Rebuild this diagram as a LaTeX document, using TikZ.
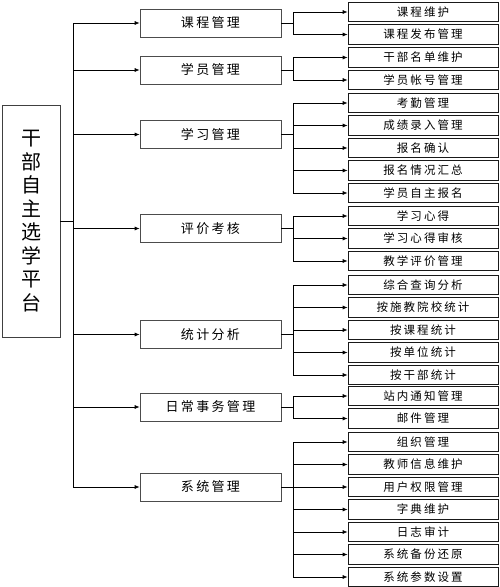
\documentclass[tikz,border=0pt]{standalone}
\usepackage{fontspec}
\setmainfont{Noto Sans CJK SC}[LetterSpace=18]
\newfontfamily\plaincjk{Noto Sans CJK SC}
\usetikzlibrary{arrows.meta, positioning}
\tikzset{> = { Latex[length = 5pt, width = 4pt] }}

\begin{document}
\begin{tikzpicture}[->, x = 1pt, y = 1pt, line width = 0.7pt,
		platform/.style = { draw = black!75, minimum width = 58pt, minimum height = 232pt, inner sep = 0pt, align = center, font = \plaincjk\fontsize{20}{23.5}\selectfont },
		module/.style = { draw = black!70, minimum width = 141pt, minimum height = 28pt, inner sep = 0pt, font = \fontsize{13}{15}\selectfont },
		func/.style = { draw = black!90, minimum width = 150pt, minimum height = 19.5pt, inner sep = 0pt, font = \fontsize{11.5}{13}\selectfont }]
		\useasboundingbox (0,0) rectangle (500,-587);

		\node [platform] (p) at (31,-221) {干\\部\\自\\主\\选\\学\\平\\台};

		\node [module] (m1) at (210.5,-23)  {课程管理};
		\node [module] (m2) at (210.5,-70)  {学员管理};
		\node [module] (m3) at (210.5,-134.5) {学习管理};
		\node [module] (m4) at (210.5,-228.5) {评价考核};
		\node [module] (m5) at (210.5,-334.5) {统计分析};
		\node [module] (m6) at (210.5,-407) {日常事务管理};
		\node [module] (m7) at (210.5,-487) {系统管理};

		\node [func]                    (a1) at (423,-12) {课程维护};
		\node [func, below = 2.3pt of a1] (a2) {课程发布管理};

		\node [func]                    (b1) at (423,-57.5) {干部名单维护};
		\node [func, below = 2.3pt of b1] (b2) {学员帐号管理};

		\node [func]                    (c1) at (423,-103) {考勤管理};
		\node [func, below = 2.3pt of c1] (c2) {成绩录入管理};
		\node [func, below = 2.3pt of c2] (c3) {报名确认};
		\node [func, below = 2.3pt of c3] (c4) {报名情况汇总};
		\node [func, below = 2.3pt of c4] (c5) {学员自主报名};

		\node [func]                    (d1) at (423,-216) {学习心得};
		\node [func, below = 2.3pt of d1] (d2) {学习心得审核};
		\node [func, below = 2.3pt of d2] (d3) {教学评价管理};

		\node [func]                    (e1) at (423,-285) {综合查询分析};
		\node [func, below = 2.3pt of e1] (e2) {按施教院校统计};
		\node [func, below = 2.3pt of e2] (e3) {按课程统计};
		\node [func, below = 2.3pt of e3] (e4) {按单位统计};
		\node [func, below = 2.3pt of e4] (e5) {按干部统计};

		\node [func]                    (f1) at (423,-396) {站内通知管理};
		\node [func, below = 2.3pt of f1] (f2) {邮件管理};

		\node [func]                    (g1) at (423,-442) {组织管理};
		\node [func, below = 2.3pt of g1] (g2) {教师信息维护};
		\node [func, below = 2.3pt of g2] (g3) {用户权限管理};
		\node [func, below = 2.3pt of g3] (g4) {字典维护};
		\node [func, below = 2.3pt of g4] (g5) {日志审计};
		\node [func, below = 2.3pt of g5] (g6) {系统备份还原};
		\node [func, below = 2.3pt of g6] (g7) {系统参数设置};

		\draw (p.east) -- ++(13,0) |- (m1);
		\draw (p.east) -- ++(13,0) |- (m2);
		\draw (p.east) -- ++(13,0) |- (m3);
		\draw (p.east) -- ++(13,0) |- (m4);
		\draw (p.east) -- ++(13,0) |- (m5);
		\draw (p.east) -- ++(13,0) |- (m6);
		\draw (p.east) -- ++(13,0) |- (m7);

		\draw (m1.east) -- ++(12,0) |- (a1);
		\draw (m1.east) -- ++(12,0) |- (a2);

		\draw (m2.east) -- ++(12,0) |- (b1);
		\draw (m2.east) -- ++(12,0) |- (b2);

		\draw (m3.east) -- ++(12,0) |- (c1);
		\draw (m3.east) -- ++(12,0) |- (c2);
		\draw (m3.east) -- ++(12,0) |- (c3);
		\draw (m3.east) -- ++(12,0) |- (c4);
		\draw (m3.east) -- ++(12,0) |- (c5);

		\draw (m4.east) -- ++(12,0) |- (d1);
		\draw (m4.east) -- ++(12,0) |- (d2);
		\draw (m4.east) -- ++(12,0) |- (d3);

		\draw (m5.east) -- ++(12,0) |- (e1);
		\draw (m5.east) -- ++(12,0) |- (e2);
		\draw (m5.east) -- ++(12,0) |- (e3);
		\draw (m5.east) -- ++(12,0) |- (e4);
		\draw (m5.east) -- ++(12,0) |- (e5);

		\draw (m6.east) -- ++(12,0) |- (f1);
		\draw (m6.east) -- ++(12,0) |- (f2);

		\draw (m7.east) -- ++(12,0) |- (g1);
		\draw (m7.east) -- ++(12,0) |- (g2);
		\draw (m7.east) -- ++(12,0) |- (g3);
		\draw (m7.east) -- ++(12,0) |- (g4);
		\draw (m7.east) -- ++(12,0) |- (g5);
		\draw (m7.east) -- ++(12,0) |- (g6);
		\draw (m7.east) -- ++(12,0) |- (g7);
	\end{tikzpicture}
\end{document}
